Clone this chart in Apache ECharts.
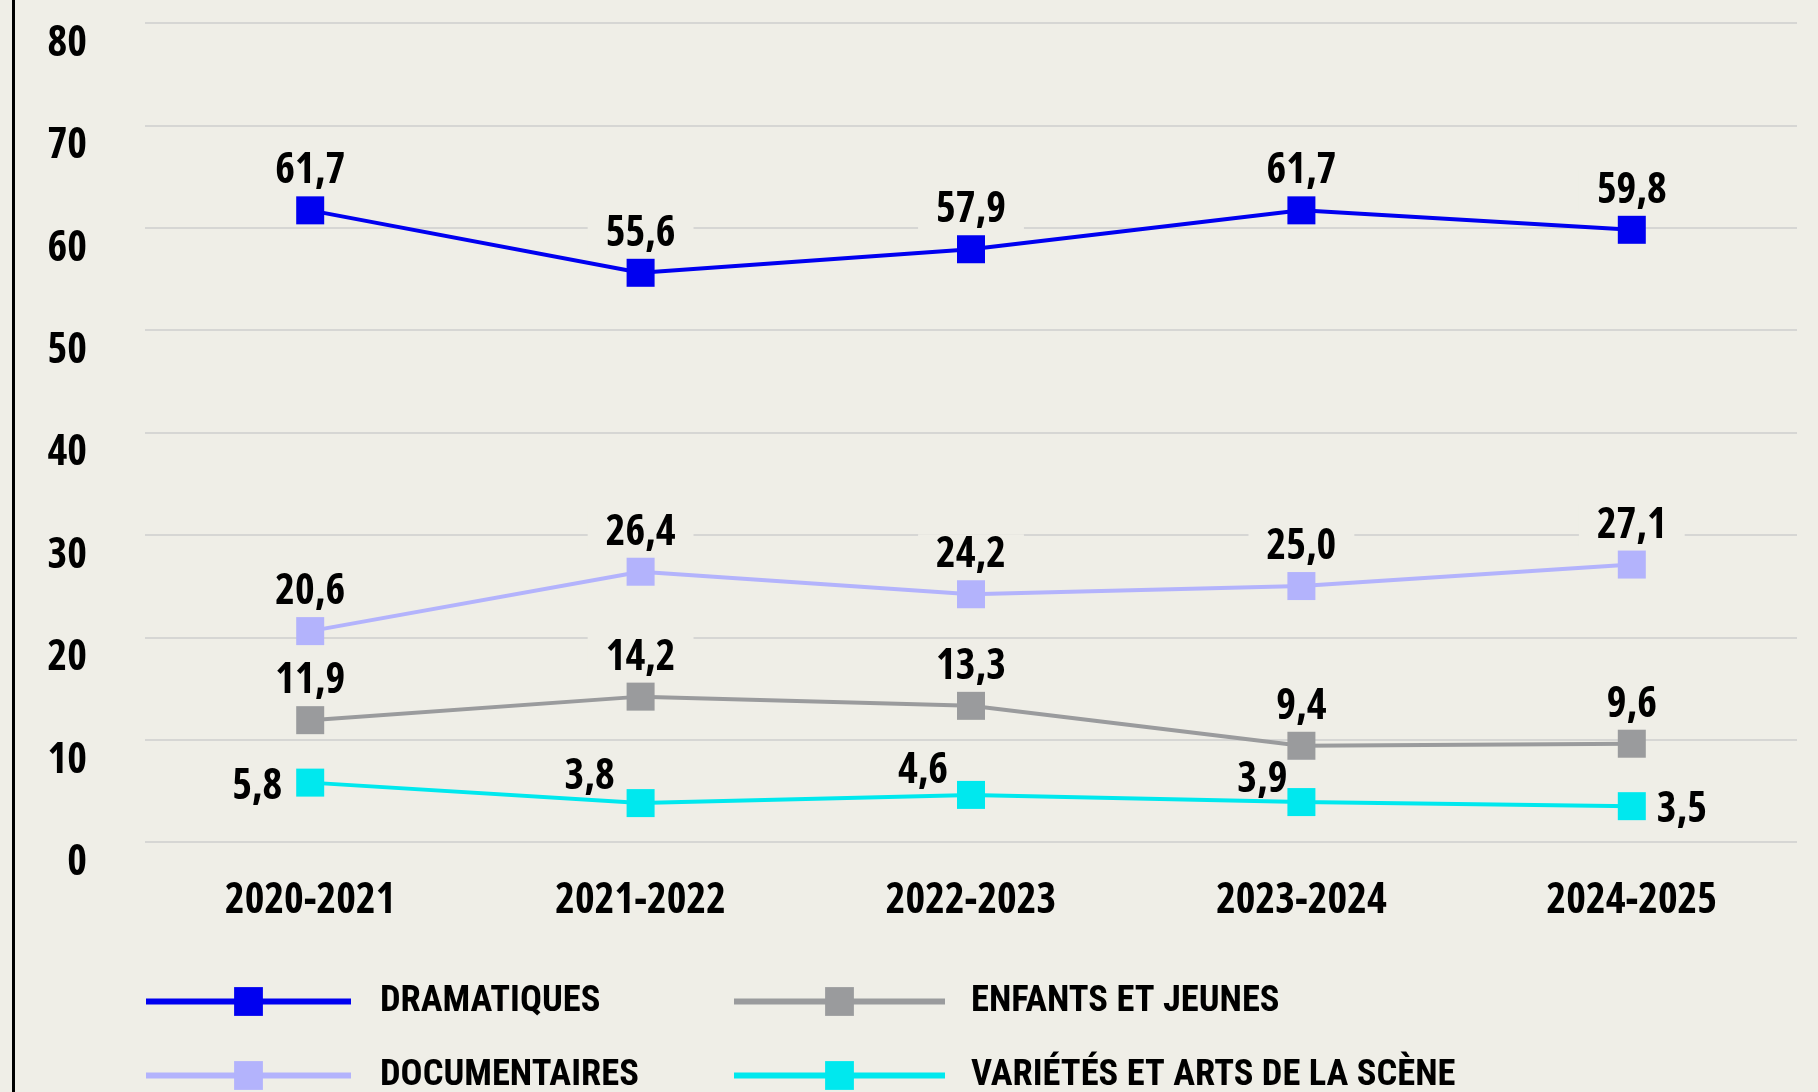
<!DOCTYPE html>
<html lang="fr">
<head>
    <meta charset="UTF-8">
    <title>Heures par genre</title>
    <script src="https://cdn.jsdelivr.net/npm/echarts@6/dist/echarts.min.js"></script>
    <style>
        html, body { margin: 0; padding: 0; background: #efeee7; }
        #chart { width: 1818px; height: 1092px; }
    </style>
</head>
<body>
<div id="chart"></div>
<script>
    var years = ['2020-2021', '2021-2022', '2022-2023', '2023-2024', '2024-2025'];
    var dramatiques = [61.7, 55.6, 57.9, 61.7, 59.8];
    var documentaires = [20.6, 26.4, 24.2, 25.0, 27.1];
    var enfants = [11.9, 14.2, 13.3, 9.4, 9.6];
    var varietes = [5.8, 3.8, 4.6, 3.9, 3.5];
    var yTicks = [0, 10, 20, 30, 40, 50, 60, 70, 80];

    // where the cyan labels sit (offset from the usual "top" spot)
    var cyanOffsets = [[-53, 43], [-51, 13], [-48, 15], [-39, 17], [50, 43]];

    var BG = '#efeee7';
    var NUM_FONT = '"Open Sans", Roboto, sans-serif';
    var TXT_FONT = 'Roboto, "Open Sans", sans-serif';
    var WEIGHT = 'bold condensed';   // condensed face via the canvas font shorthand

    function fmt(v) { return v.toFixed(1).replace('.', ','); }

    function labelStyle(withBg) {
        return {
            show: true,
            position: 'top',
            distance: 4,
            formatter: function (p) { return fmt(p.value); },
            fontFamily: NUM_FONT,
            fontWeight: WEIGHT,
            fontSize: 42,
            color: '#000',
            backgroundColor: withBg ? BG : 'transparent',
            padding: [0, 18]
        };
    }

    function makeSeries(name, values, color, offsets) {
        return {
            name: name,
            type: 'line',
            data: values.map(function (v, i) {
                var d = { value: v };
                if (offsets) d.label = { offset: offsets[i] };
                return d;
            }),
            symbol: 'rect',
            symbolSize: 28,
            lineStyle: { color: color, width: 4 },
            itemStyle: { color: color },
            label: labelStyle(!offsets),
            emphasis: { disabled: true },
            animation: false
        };
    }

    function legendText(gap) {
        return { fontFamily: TXT_FONT, fontWeight: WEIGHT, fontSize: 36.5, color: '#000', lineHeight: 36, padding: [0, 0, 0, gap] };
    }
    var axisText = { fontFamily: NUM_FONT, fontWeight: WEIGHT, fontSize: 42, color: '#000' };

    var chart = echarts.init(document.getElementById('chart'));
    chart.setOption({
        backgroundColor: BG,
        grid: { left: 145, right: 21, top: 23, bottom: 250 },
        xAxis: {
            type: 'category',
            data: years,
            boundaryGap: true,
            axisLine: { show: false },
            axisTick: { show: false },
            axisLabel: Object.assign({ margin: 38 }, axisText)
        },
        yAxis: {
            type: 'value',
            min: yTicks[0],
            max: yTicks[yTicks.length - 1],
            interval: 10,
            axisLine: { show: false },
            axisTick: { show: false },
            splitLine: { lineStyle: { color: '#d6d6d4', width: 2 } },
            axisLabel: Object.assign({ margin: 58, verticalAlign: 'top', padding: [0, 0, 0, 0] }, axisText)
        },
        legend: [{
            orient: 'vertical',
            left: 138, top: 978, height: 150,
            itemWidth: 205, itemHeight: 36, itemGap: 37, itemTextGap: 5,
            lineStyle: { width: 6 },
            selectedMode: false,
            textStyle: legendText(24),
            data: ['DRAMATIQUES', 'DOCUMENTAIRES']
        }, {
            orient: 'vertical',
            left: 726, top: 978, height: 150,
            itemWidth: 211, itemHeight: 36, itemGap: 37, itemTextGap: 5,
            lineStyle: { width: 6 },
            selectedMode: false,
            textStyle: legendText(21),
            data: ['ENFANTS ET JEUNES', 'VARIÉTÉS ET ARTS DE LA SCÈNE']
        }],
        graphic: [{
            type: 'rect',
            shape: { x: 12, y: 0, width: 3, height: 1092 },
            style: { fill: '#000' }
        }],
        series: [
            makeSeries('DRAMATIQUES', dramatiques, '#0000f0'),
            makeSeries('DOCUMENTAIRES', documentaires, '#b3b3fc'),
            makeSeries('ENFANTS ET JEUNES', enfants, '#9a9b9d'),
            makeSeries('VARIÉTÉS ET ARTS DE LA SCÈNE', varietes, '#00e8ee', cyanOffsets)
        ]
    });
</script>
</body>
</html>
